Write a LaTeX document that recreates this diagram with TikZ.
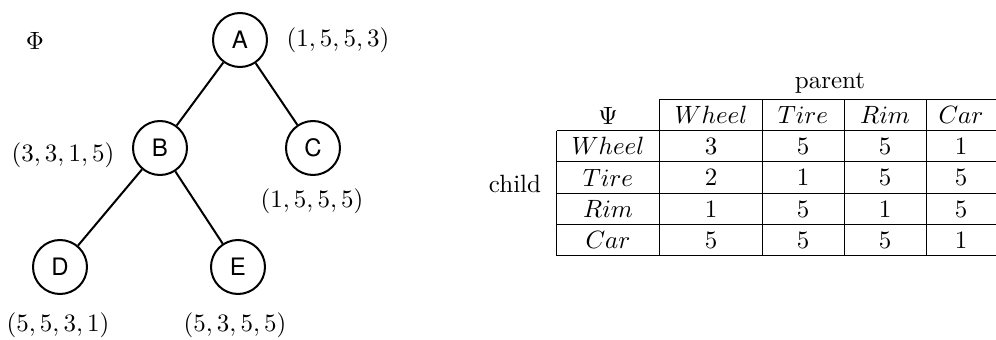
\documentclass[tikz,border=0pt]{standalone}
\usepackage{fontspec}
\newfontfamily\nodefont{TeX Gyre Heros}
\begin{document}
\begin{tikzpicture}[x=0.4pt,y=-0.4pt,
  vert/.style={circle,draw,line width=0.8pt,minimum size=21.6pt,inner sep=0pt,font=\nodefont\fontsize{9.6}{11}\selectfont},
  edge/.style={line width=0.8pt},
  lab/.style={inner sep=0pt,font=\fontsize{10}{12}\selectfont},
  rule/.style={line width=0.4pt},
  cell/.style={inner sep=0pt,font=\fontsize{10}{12}\selectfont}]
\useasboundingbox (0,0) rectangle (996,340);
% tree
\node[lab] (phi) at (35,41) {$\Phi$};
\node[vert] (A) at (240,40) {A};
\node[vert] (B) at (160,148) {B};
\node[vert] (C) at (313,148) {C};
\node[vert] (D) at (60,267) {D};
\node[vert] (E) at (238,267) {E};
\draw[edge] (A) -- (B);
\draw[edge] (A) -- (C);
\draw[edge] (B) -- (D);
\draw[edge] (B) -- (E);
\node[lab] (la) at (338,40) {$(1,5,5,3)$};
\node[lab] (lb) at (63,155) {$(3,3,1,5)$};
\node[lab] (lc) at (312,201) {$(1,5,5,5)$};
\node[lab] (ld) at (58,325) {$(5,5,3,1)$};
\node[lab] (le) at (235,325) {$(5,3,5,5)$};
% table
\node[cell] (parent) at (830,83) {parent};
\node[cell] (child) at (515,184) {child};
\node[cell] (psi) at (608,116) {$\Psi$};
\foreach \n/\t/\x in {hw/Wheel/711,ht/Tire/803,hr/Rim/885,hc/Car/961}
  \node[cell] (\n) at (\x,115) {$\t$};
\foreach \n/\t/\y in {rw/Wheel/146,rt/Tire/177.5,rr/Rim/209,rc/Car/240}
  \node[cell] (\n) at (608,\y) {$\t$};
\foreach \r/\y/\a/\b/\c/\d in {w/146/3/5/5/1,t/177.5/2/1/5/5,r/209/1/5/1/5,c/240/5/5/5/1}{
  \node[cell] (c\r1) at (711,\y) {$\a$};
  \node[cell] (c\r2) at (803,\y) {$\b$};
  \node[cell] (c\r3) at (885,\y) {$\c$};
  \node[cell] (c\r4) at (961,\y) {$\d$};
}
\draw[rule] (659,99.3) -- (996,99.3);
\draw[rule] (556.7,130.7) -- (996,130.7);
\draw[rule] (556.7,161.7) -- (996,161.7);
\draw[rule] (556.7,193.3) -- (996,193.3);
\draw[rule] (556.7,224.3) -- (996,224.3);
\draw[rule] (556.7,255.7) -- (996,255.7);
\draw[rule] (556.7,130.7) -- (556.7,255.7);
\foreach \x in {659,762.7,844,926}
  \draw[rule] (\x,99.3) -- (\x,255.7);
\end{tikzpicture}
\end{document}
